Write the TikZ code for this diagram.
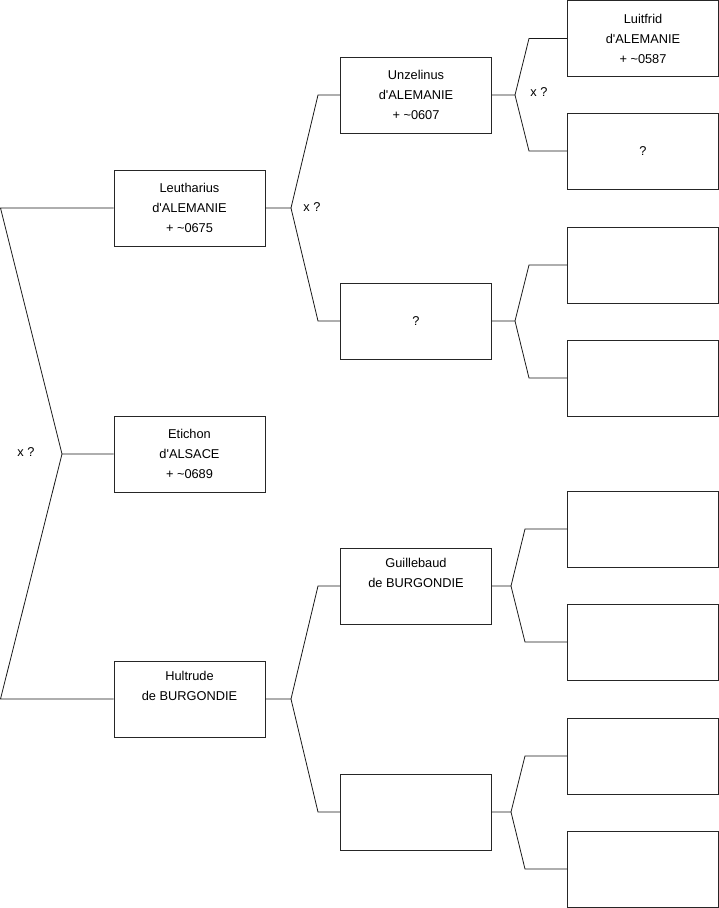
\documentclass[tikz,border=0pt]{standalone}
\usepackage{fontspec}
\setmainfont{Liberation Sans}[Ligatures=NoCommon]
\newcommand{\apos}{\textquotesingle}
\begin{document}
\begin{tikzpicture}[x=1pt,y=-1pt,
  pbox/.style={draw=black!85,line width=0.8pt,rectangle,minimum width=151pt,minimum height=76pt,inner sep=0pt,
    align=center,font=\fontsize{12.8}{20}\selectfont},
  conn/.style={draw=black!90,line width=0.8pt},
  lbl/.style={font=\fontsize{12.8}{15}\selectfont,inner sep=0pt}]
\useasboundingbox (0,0) rectangle (719,908);
% column 1
\node[pbox] (L) at (189.5,208) {Leutharius\\d\apos ALEMANIE\\+ \textasciitilde0675};
\node[pbox] (E) at (189.5,454) {Etichon\\d\apos ALSACE\\+ \textasciitilde0689};
\node[pbox] (H) at (189.5,699) {Hultrude\\de BURGONDIE\\\strut};
% column 2
\node[pbox] (U) at (416,95) {Unzelinus\\d\apos ALEMANIE\\+ \textasciitilde0607};
\node[pbox] (Q) at (416,321) {?};
\node[pbox] (G) at (416,586) {Guillebaud\\de BURGONDIE\\\strut};
\node[pbox] (X) at (416,812) {};
% column 3
\node[pbox] (c1) at (643,38.5) {Luitfrid\\d\apos ALEMANIE\\+ \textasciitilde0587};
\node[pbox] (c2) at (643,151) {?};
\node[pbox] (c3) at (643,265) {};
\node[pbox] (c4) at (643,378) {};
\node[pbox] (c5) at (643,529) {};
\node[pbox] (c6) at (643,642) {};
\node[pbox] (c7) at (643,756) {};
\node[pbox] (c8) at (643,869) {};
% root fork
\coordinate (r1) at (0.5,208);
\coordinate (r2) at (62,454);
\coordinate (r3) at (0.5,699);
\draw[conn] (L.west) -- (r1) -- (r2) -- (E.west);
\draw[conn] (r2) -- (r3) -- (H.west);
\node[lbl] (x1) at (26,452) {x ?};
% Leutharius fork
\coordinate (fL) at (291,208);
\coordinate (fL1) at (318,95);
\coordinate (fL2) at (318,321);
\draw[conn] (L.east) -- (fL) -- (fL1) -- (U.west);
\draw[conn] (fL) -- (fL2) -- (Q.west);
\node[lbl] (x2) at (312,207) {x ?};
% Unzelinus fork
\coordinate (fU) at (515,95);
\coordinate (fU1) at (529,38.5);
\coordinate (fU2) at (529,151);
\draw[conn] (U.east) -- (fU) -- (fU1) -- (c1.west);
\draw[conn] (fU) -- (fU2) -- (c2.west);
\node[lbl] (x3) at (539,92) {x ?};
% Q fork
\coordinate (fQ) at (515,321);
\coordinate (fQ1) at (529,265);
\coordinate (fQ2) at (529,378);
\draw[conn] (Q.east) -- (fQ) -- (fQ1) -- (c3.west);
\draw[conn] (fQ) -- (fQ2) -- (c4.west);
% Hultrude fork
\coordinate (fH) at (291,699);
\coordinate (fH1) at (318,586);
\coordinate (fH2) at (318,812);
\draw[conn] (H.east) -- (fH) -- (fH1) -- (G.west);
\draw[conn] (fH) -- (fH2) -- (X.west);
% Guillebaud fork
\coordinate (fG) at (511,586);
\coordinate (fG1) at (525,529);
\coordinate (fG2) at (525,642);
\draw[conn] (G.east) -- (fG) -- (fG1) -- (c5.west);
\draw[conn] (fG) -- (fG2) -- (c6.west);
% X fork
\coordinate (fX) at (511,812);
\coordinate (fX1) at (525,756);
\coordinate (fX2) at (525,869);
\draw[conn] (X.east) -- (fX) -- (fX1) -- (c7.west);
\draw[conn] (fX) -- (fX2) -- (c8.west);
\end{tikzpicture}
\end{document}
